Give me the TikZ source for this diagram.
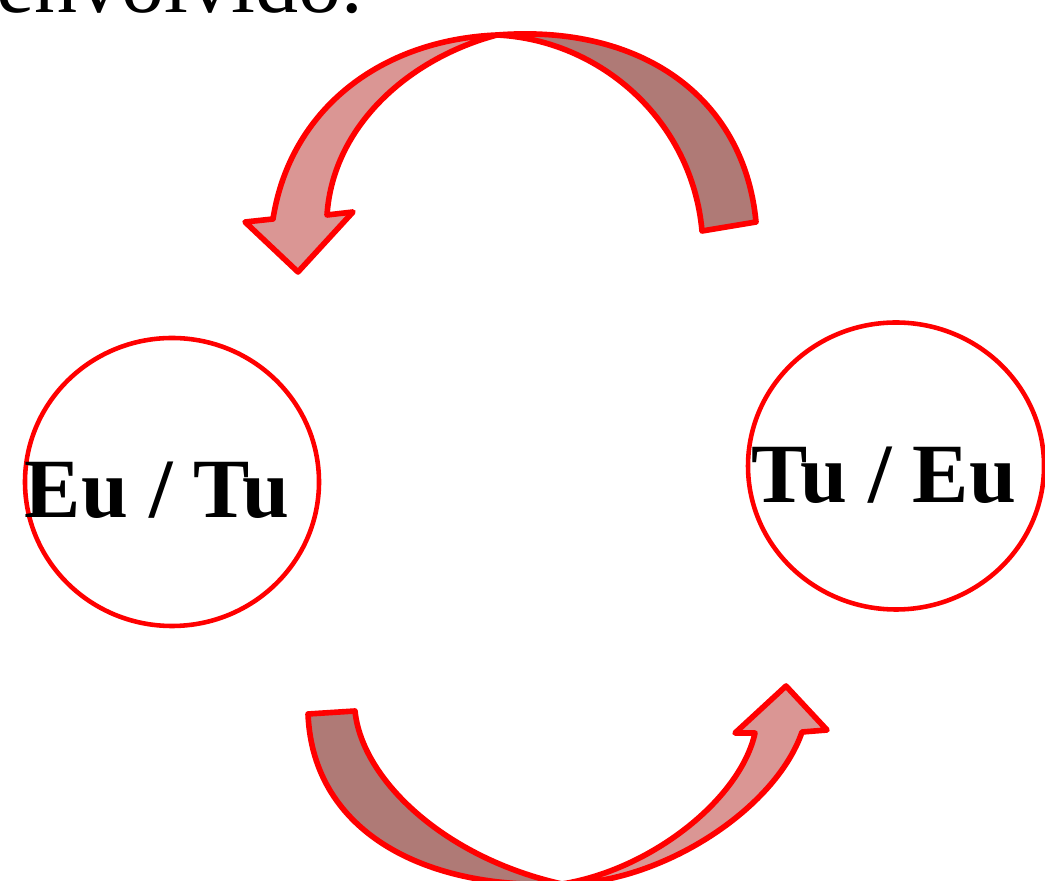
\documentclass[tikz,border=0pt]{standalone}
\usepackage{fontspec}
\setmainfont{Liberation Serif}
\usetikzlibrary{shapes.geometric}
\definecolor{ribbonlight}{RGB}{218,150,148}
\definecolor{ribbondark}{RGB}{175,122,118}

\begin{document}
\begin{tikzpicture}[x=0.1mm,y=-0.1mm,
    ring/.style={ellipse,draw=red,line width=1.3pt,inner sep=0pt},
    who/.style={font=\fontsize{24}{28}\selectfont\bfseries,anchor=base,inner sep=0pt},
    band/.style={draw=red,line width=1.6pt,line join=round}]
    \clip(0,0)rectangle(1045,881);
    \node[anchor=base west,inner sep=0pt,font=\fontsize{24.5}{28}\selectfont](txt)at(-4,13){envolvido.};
    \node[ring,minimum width=29.4mm,minimum height=28.8mm](L)at(172,482){};
    \node[ring,minimum width=29.6mm,minimum height=28.7mm](R)at(896,466){};
    \node[who](eutu)at(157,518){Eu / Tu};
    \node[who](tueu)at(884,503){Tu / Eu};
    \coordinate(To)at(756,222);
    \coordinate(Ti)at(702,231);
    \coordinate(X)at(497,35);
    \coordinate(Ho)at(273,219);
    \coordinate(Hl)at(245,222);
    \coordinate(Htip)at(298,272);
    \coordinate(Hr)at(353,212);
    \coordinate(Hi)at(327,215);
    \filldraw[band,fill=ribbondark](To)..controls(744,96)and(640,24)..(X)
        ..controls(600,40)and(692,120)..(Ti)--cycle;
    \filldraw[band,fill=ribbonlight](X)..controls(380,40)and(290,110)..(Ho)
        --(Hl)--(Htip)--(Hr)--(Hi)..controls(333,125)and(410,58)..(X)--cycle;
    \coordinate(Bto)at(308,714);
    \coordinate(Bti)at(355,711);
    \coordinate(B)at(562,884);
    \coordinate(Bho)at(802,732);
    \coordinate(Br)at(827,730);
    \coordinate(Btip)at(786,686);
    \coordinate(Bl)at(735,733);
    \coordinate(Bhi)at(755,733);
    \filldraw[band,fill=ribbondark](Bto)..controls(313,835)and(430,890)..(B)
        ..controls(445,858)and(362,780)..(Bti)--cycle;
    \filldraw[band,fill=ribbonlight](B)..controls(660,884)and(775,810)..(Bho)
        --(Br)--(Btip)--(Bl)--(Bhi)..controls(740,800)and(650,870)..(B)--cycle;
\end{tikzpicture}
\end{document}
